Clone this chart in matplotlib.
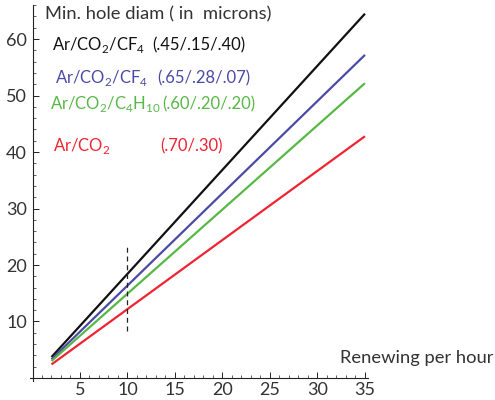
import matplotlib
matplotlib.use('Agg')
import matplotlib.pyplot as plt
from matplotlib.ticker import MultipleLocator

# data (straight lines, endpoints only)
x_vals = [2, 35]
black_vals = [3.7, 64.5]
blue_vals = [3.3, 57.2]
green_vals = [3.0, 52.2]
red_vals = [2.4, 42.8]

x_ticks = [5, 10, 15, 20, 25, 30, 35]
y_ticks = [10, 20, 30, 40, 50, 60]
marker_x = 10
marker_y = [8.3, 23.3]

labels = [r'Ar/CO$_{\mathregular{2}}$/CF$_{\mathregular{4}}$',
          r'Ar/CO$_{\mathregular{2}}$/CF$_{\mathregular{4}}$',
          r'Ar/CO$_{\mathregular{2}}$/C$_{\mathregular{4}}$H$_{\mathregular{10}}$',
          r'Ar/CO$_{\mathregular{2}}$']
fractions = ['(.45/.15/.40)', '(.65/.28/.07)', '(.60/.20/.20)', '(.70/.30)']

BLACK = '#111111'
BLUE = '#4b4ba6'
GREEN = '#58b846'
RED = '#ee2433'
TXT = '#333333'

plt.rcParams['font.family'] = ['Lato', 'DejaVu Sans']
plt.rcParams['mathtext.fontset'] = 'custom'
plt.rcParams['mathtext.rm'] = 'Lato'

W, H = 495, 400
fig = plt.figure(figsize=(W / 100, H / 100), dpi=100)
ax = fig.add_axes([0.0599, 0.048, 0.6832, 0.939])


def px(x, y):
    return x / W, 1 - y / H


for vals, c in [(black_vals, BLACK), (blue_vals, BLUE),
                (green_vals, GREEN), (red_vals, RED)]:
    ax.plot(x_vals, vals, color=c, lw=1.6, solid_capstyle='butt')

ax.plot([marker_x, marker_x], marker_y, color='#222222', lw=0.9,
        dashes=(4, 3))

ax.set_xlim(-0.3, 35.3)
ax.set_ylim(-0.5, 66)
for s in ['top', 'right']:
    ax.spines[s].set_visible(False)
for s in ['left', 'bottom']:
    ax.spines[s].set_position(('data', 0))
    ax.spines[s].set_linewidth(0.8)
    ax.spines[s].set_color('#222222')

ax.set_xticks(x_ticks)
ax.set_yticks(y_ticks)
ax.xaxis.set_minor_locator(MultipleLocator(1))
ax.yaxis.set_minor_locator(MultipleLocator(2))
ax.tick_params(which='major', direction='in', length=4, width=0.7,
               color='#222222', labelsize=13, labelcolor=TXT)
ax.tick_params(which='minor', direction='in', length=2.2, width=0.5,
               color='#222222')
ax.tick_params(axis='x', pad=3)
ax.tick_params(axis='y', pad=4)

fig.text(*px(45, 14), 'Min. hole diam ( in  microns)', fontsize=13.2,
         color=TXT, va='center', ha='left')
fig.text(*px(340, 358), 'Renewing per hour', fontsize=13.2,
         color=TXT, va='center', ha='left')

label_pos = [(52, 45), (55, 78), (50, 104), (53, 146)]
frac_x = [152, 157, 162, 160]
for lab, frac, (lx, ly), fx, c in zip(labels, fractions, label_pos, frac_x,
                                     [BLACK, BLUE, GREEN, RED]):
    fig.text(*px(lx, ly), lab, fontsize=12, color=c, va='center', ha='left')
    fig.text(*px(fx, ly), frac, fontsize=12, color=c, va='center', ha='left')

fig.savefig('out.png', dpi=100, facecolor='white')
